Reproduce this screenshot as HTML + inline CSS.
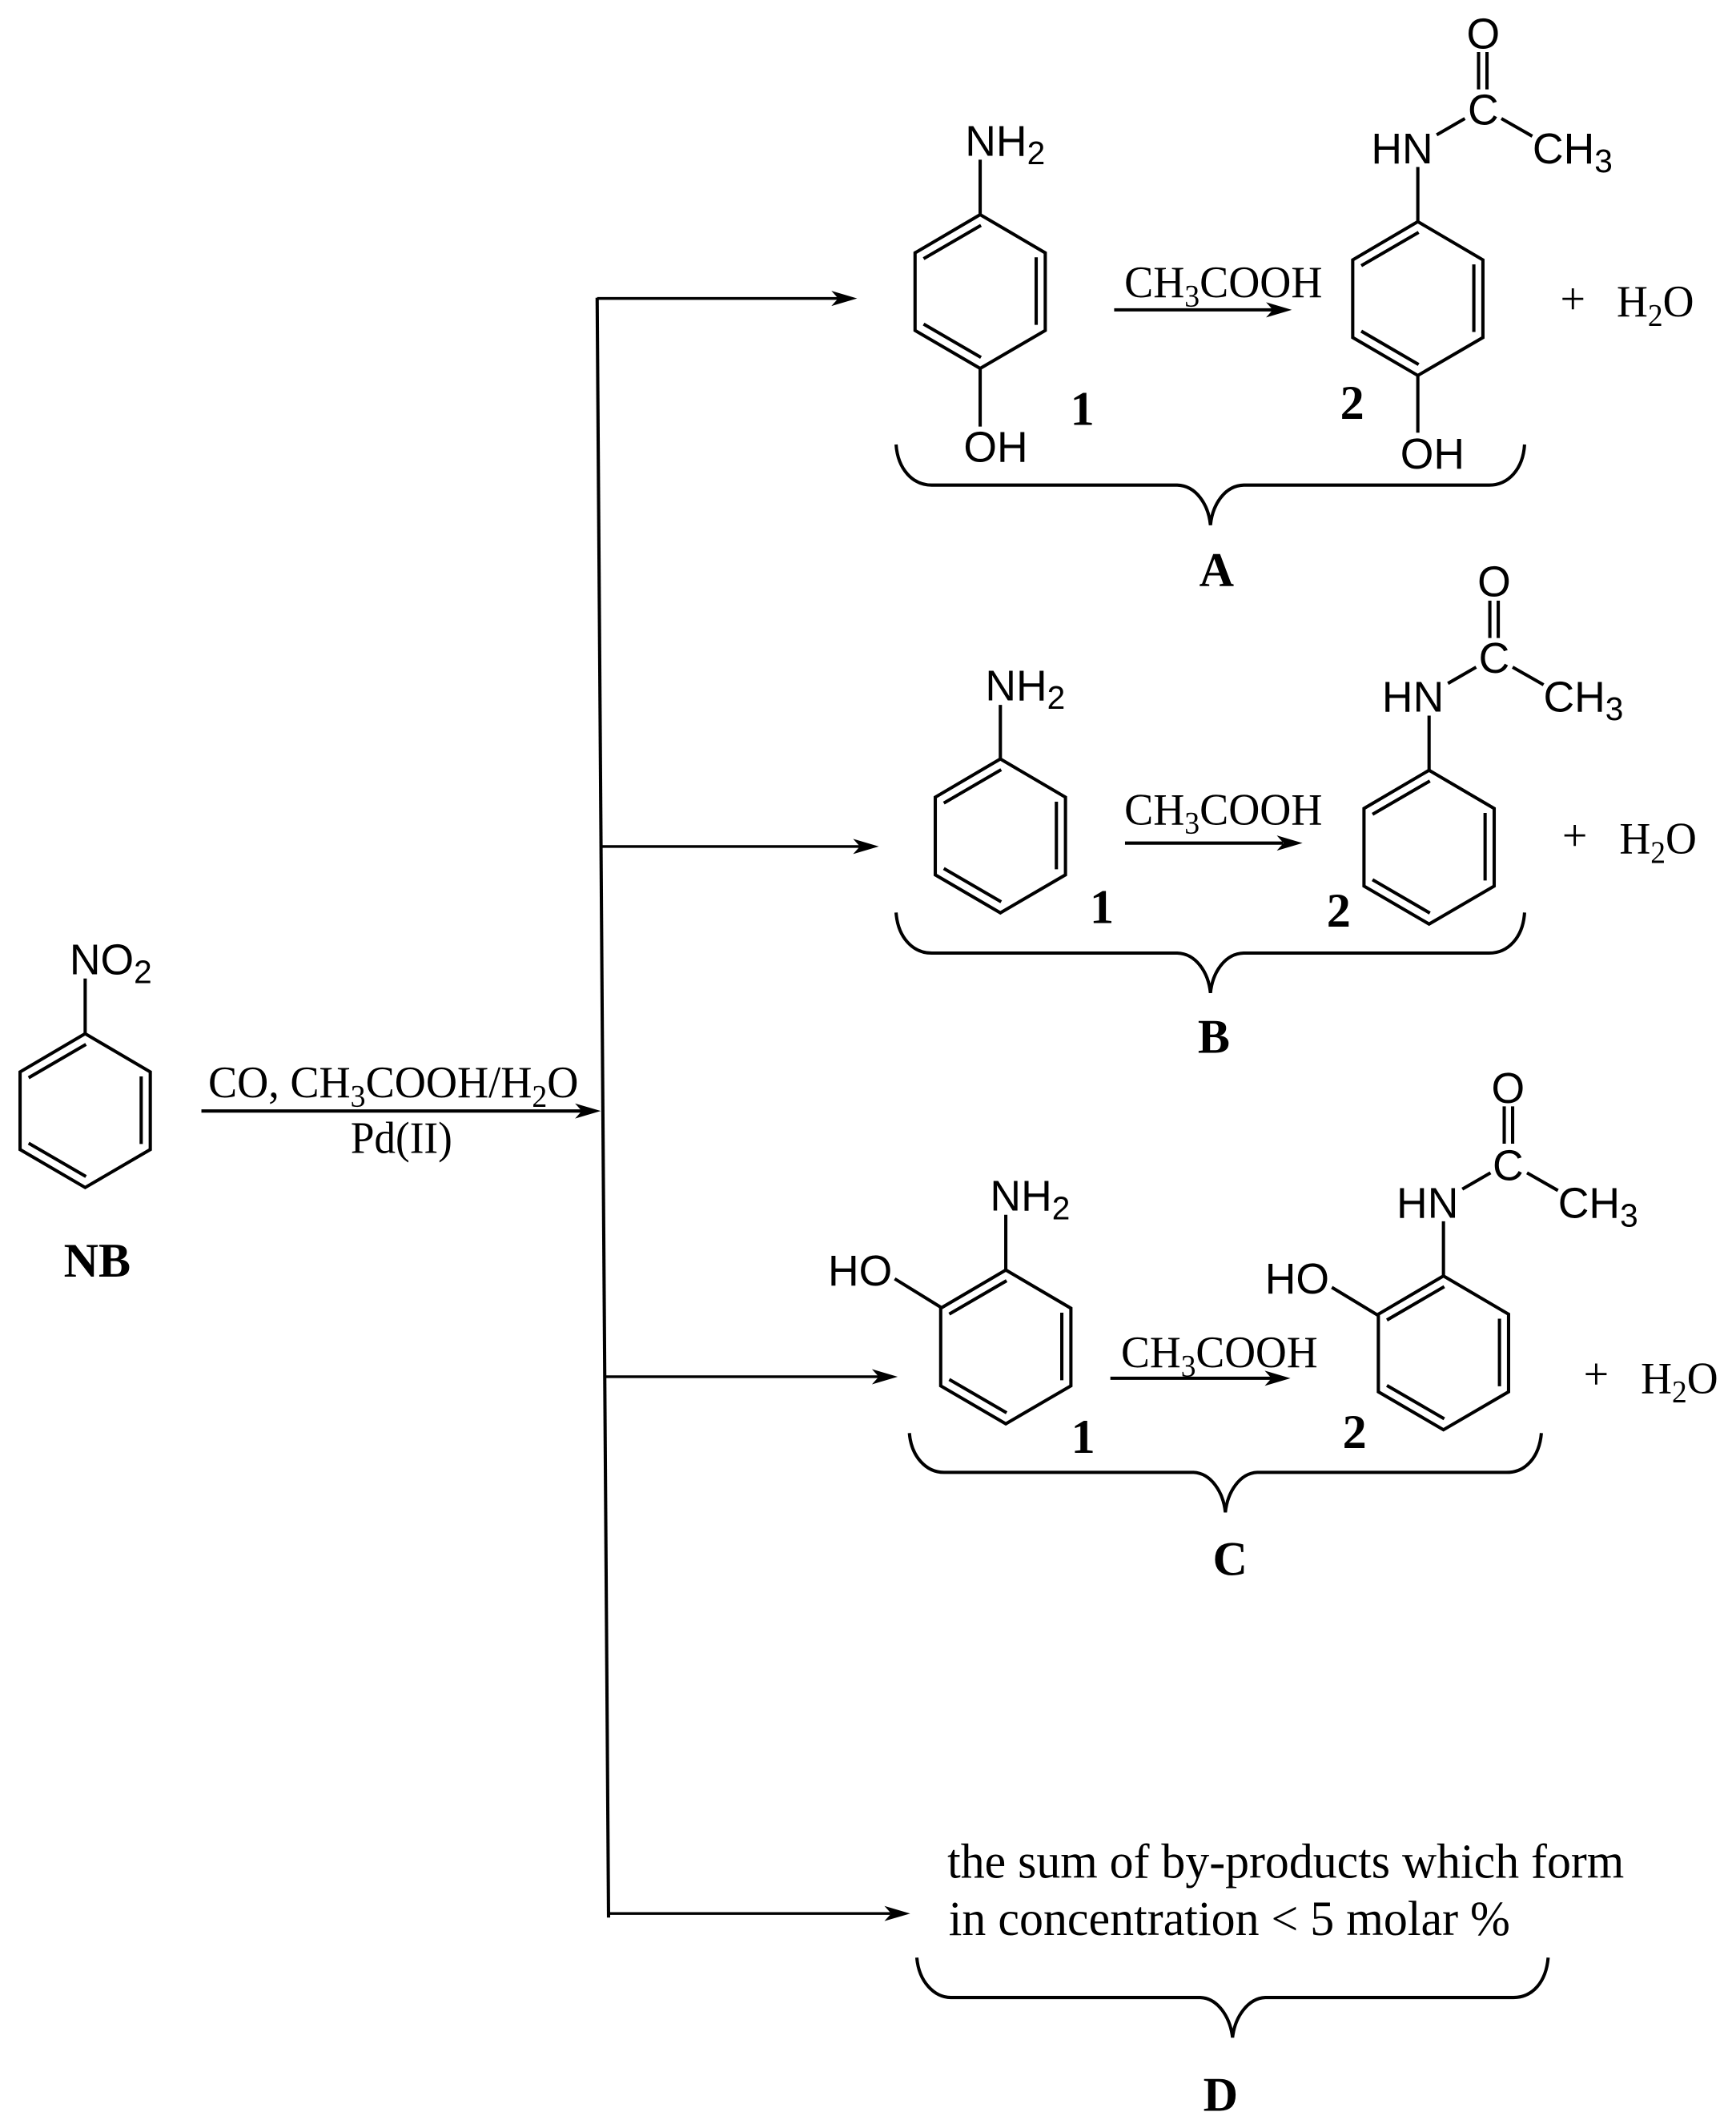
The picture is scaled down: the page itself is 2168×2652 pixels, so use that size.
<!DOCTYPE html>
<html><head><meta charset="utf-8"><style>
html,body{margin:0;padding:0;background:#fff}
svg{display:block}
.s{font-family:"Liberation Sans",sans-serif;font-size:31.6px}
.s tspan{font-size:24px}
.t{font-family:"Liberation Serif",serif;font-size:33px}
.t tspan.sub{font-size:23px}
.b{font-family:"Liberation Serif",serif;font-size:35.5px;font-weight:bold}
.l{font-family:"Liberation Serif",serif;font-size:36px}
.m{text-anchor:middle}
</style></head><body>
<svg xmlns="http://www.w3.org/2000/svg" width="2168" height="2652" viewBox="0 0 1280 1565.76">
<defs>
<g id="ring" fill="none" stroke="#000" stroke-width="2.4" stroke-linejoin="miter">
<path d="M0 0L48 28.2V85.4L0 113.4L-48 85.4V28.2Z"/>
<path d="M-41.7 32.5L0.6 7.9M41.3 31.5V81.3M-41.7 80.7L0.6 105.3"/>
</g>
<g id="ac" fill="none" stroke="#000" stroke-width="2.4">
<path d="M0 0V-40.3M44.8 -125V-97.5M51 -125V-97.5M13.9 -64L34.7 -76M61.6 -76L84.4 -63"/>
</g>
<path id="head" d="M0 0L-19 -5.6L-14 0L-19 5.6Z" fill="#000"/>
</defs>
<rect width="1280" height="1566" fill="#fff"/>

<!-- main lines -->
<g fill="none" stroke="#000" stroke-width="2">
<path d="M440.3 219.5L448.7 1413.6" stroke-width="2.4"/>
<path d="M440.3 220H618M443 624H634M446 1014.9H648M448.7 1410.6H657"/>
<path d="M148.5 819H429M821.5 228.4H939M829.5 621.5H946M818.7 1016H938" stroke-width="2.4"/>
</g>
<use href="#head" x="632" y="220"/><use href="#head" x="648" y="624"/><use href="#head" x="661.9" y="1014.9"/><use href="#head" x="671.1" y="1410.6"/><use href="#head" x="443" y="819"/>
<use href="#head" x="952.5" y="228.4"/><use href="#head" x="960.4" y="621.5"/><use href="#head" x="951.5" y="1016"/>

<!-- NB -->
<use href="#ring" x="62.8" y="762"/>
<path d="M62.8 762V721.3" stroke="#000" stroke-width="2.4"/>
<text class="s" x="51.3" y="718.3">NO<tspan dy="6.4">2</tspan></text>
<text class="b" x="47" y="941">NB</text>
<text class="t" x="153.5" y="809" textLength="273" lengthAdjust="spacingAndGlyphs">CO, CH<tspan class="sub" dy="6.7">3</tspan><tspan dy="-6.7">COOH/H</tspan><tspan class="sub" dy="6.7">2</tspan><tspan dy="-6.7">O</tspan></text>
<text class="t" x="258.5" y="850" textLength="75" lengthAdjust="spacingAndGlyphs">Pd(II)</text>

<!-- A -->
<use href="#ring" x="722.7" y="158.2"/>
<path d="M722.7 158.2V117.7M722.7 271.6V314.5" stroke="#000" stroke-width="2.4"/>
<text class="s" x="711.6" y="114.7">NH<tspan dy="6.4">2</tspan></text>
<text class="s" x="710.5" y="340.3">OH</text>
<use href="#ring" x="1045.4" y="163.4"/>
<use href="#ac" x="1045.4" y="163.4"/>
<path d="M1045.4 276.8V319" stroke="#000" stroke-width="2.4"/>
<text class="s m" x="1093.6" y="91.7">C</text>
<text class="s m" x="1093.6" y="35.6">O</text>
<text class="s" x="1011" y="120.4">HN</text>
<text class="s" x="1130" y="120.4">CH<tspan dy="6.4">3</tspan></text>
<text class="s" x="1032.5" y="345.5">OH</text>
<text class="t" x="829" y="219" textLength="146" lengthAdjust="spacingAndGlyphs">CH<tspan class="sub" dy="6.7">3</tspan><tspan dy="-6.7">COOH</tspan></text>
<text class="b m" x="798" y="313.3">1</text>
<text class="b m" x="997" y="308.8">2</text>
<text class="t m" x="1159.7" y="231.5">+</text>
<text class="t" x="1192" y="233.2" textLength="57" lengthAdjust="spacingAndGlyphs">H<tspan class="sub" dy="6.7">2</tspan><tspan dy="-6.7">O</tspan></text>
<path d="M660.7 327.7C662 346 673 357.6 687 357.6H868C882 358 891 372 892.5 387.1C894 372 903 358 917 357.6H1098C1112 357.6 1123 346 1124.1 327.7" fill="none" stroke="#000" stroke-width="2.4"/>
<text class="b m" x="897" y="432">A</text>

<!-- B -->
<use href="#ring" x="737.6" y="559.5"/>
<path d="M737.6 559.5V519.6" stroke="#000" stroke-width="2.4"/>
<text class="s" x="726.4" y="516.2">NH<tspan dy="6.4">2</tspan></text>
<use href="#ring" x="1053.7" y="567.8"/>
<use href="#ac" x="1053.7" y="567.8"/>
<text class="s m" x="1101.7" y="496">C</text>
<text class="s m" x="1101.7" y="439.5">O</text>
<text class="s" x="1019" y="524.5">HN</text>
<text class="s" x="1138" y="524.5">CH<tspan dy="6.4">3</tspan></text>
<text class="t" x="829" y="607.7" textLength="146" lengthAdjust="spacingAndGlyphs">CH<tspan class="sub" dy="6.7">3</tspan><tspan dy="-6.7">COOH</tspan></text>
<text class="b m" x="812.4" y="680.3">1</text>
<text class="b m" x="987" y="683">2</text>
<text class="t m" x="1161.1" y="627">+</text>
<text class="t" x="1194" y="629.2" textLength="57" lengthAdjust="spacingAndGlyphs">H<tspan class="sub" dy="6.7">2</tspan><tspan dy="-6.7">O</tspan></text>
<path d="M660.7 672.7C662 691 673 702.6 687 702.6H868C882 703 891 717 892.5 732C894 717 903 703 917 702.6H1098C1112 702.6 1123 691 1124.1 672.7" fill="none" stroke="#000" stroke-width="2.4"/>
<text class="b m" x="895" y="776">B</text>

<!-- C -->
<use href="#ring" x="741.6" y="936.2"/>
<path d="M741.6 936.2V895.5M693.7 963.7L659.7 942.7" stroke="#000" stroke-width="2.4"/>
<text class="s" x="730" y="892.5">NH<tspan dy="6.4">2</tspan></text>
<text class="s" x="610.5" y="947.6">HO</text>
<use href="#ring" x="1064.3" y="940.6"/>
<use href="#ac" x="1064.3" y="940.6"/>
<path d="M1016.5 969.9L982 949" stroke="#000" stroke-width="2.4"/>
<text class="s m" x="1111.9" y="869.9">C</text>
<text class="s m" x="1111.9" y="813">O</text>
<text class="s" x="1029.7" y="897.8">HN</text>
<text class="s" x="1148.8" y="897.8">CH<tspan dy="6.4">3</tspan></text>
<text class="s" x="932.7" y="953.5">HO</text>
<text class="t" x="826.6" y="1007.8" textLength="145" lengthAdjust="spacingAndGlyphs">CH<tspan class="sub" dy="6.7">3</tspan><tspan dy="-6.7">COOH</tspan></text>
<text class="b m" x="798.6" y="1071">1</text>
<text class="b m" x="998.8" y="1067.4">2</text>
<text class="t m" x="1176.9" y="1024.2">+</text>
<text class="t" x="1209.8" y="1026.9" textLength="57" lengthAdjust="spacingAndGlyphs">H<tspan class="sub" dy="6.7">2</tspan><tspan dy="-6.7">O</tspan></text>
<path d="M670.5 1056.4C672 1074 683 1085.4 696 1085.4H880C893 1086 902 1100 903.5 1114.9C905 1100 914 1086 927 1085.4H1111C1125 1085.4 1135 1074 1136.5 1056.4" fill="none" stroke="#000" stroke-width="2.4"/>
<text class="b m" x="907" y="1161">C</text>

<!-- D -->
<text class="l" x="698.5" y="1384.3" textLength="499" lengthAdjust="spacingAndGlyphs">the sum of by-products which form</text>
<text class="l" x="699.5" y="1426.3" textLength="414" lengthAdjust="spacingAndGlyphs">in concentration &lt; 5 molar %</text>
<path d="M676 1443.1C677.5 1461 689 1472.5 701 1472.5H885C898 1473 907 1487 908.8 1502C910.5 1487 920 1473 933 1472.5H1116C1130 1472.5 1140 1461 1141.5 1443.1" fill="none" stroke="#000" stroke-width="2.4"/>
<text class="b m" x="900" y="1556">D</text>
</svg>
</body></html>
